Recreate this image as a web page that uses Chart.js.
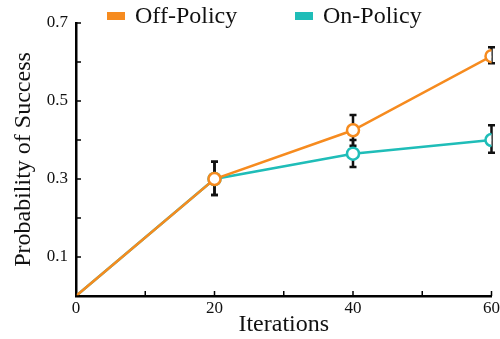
<!DOCTYPE html>
<html>
<head>
<meta charset="utf-8">
<script src="https://cdn.jsdelivr.net/npm/chart.js@4.4.0/dist/chart.umd.min.js"></script>
<style>
  html, body { margin: 0; padding: 0; background: #fff; }
  #wrap { width: 500px; height: 339px; position: relative; }
</style>
</head>
<body>
<div id="wrap"><canvas id="chart"></canvas></div>
<script>
// Données du graphique
const iterations = [0, 20, 40, 60];
const offPolicy = [0, 0.30, 0.425, 0.615];
const offPolicyLow = [null, 0.259, 0.385, 0.597];
const offPolicyHigh = [null, 0.344, 0.464, 0.638];
const onPolicy = [0, 0.30, 0.365, 0.40];
const onPolicyLow = [null, 0.259, 0.331, 0.367];
const onPolicyHigh = [null, 0.344, 0.40, 0.438];
const yLabelled = [0.1, 0.3, 0.5, 0.7];
const xLabelled = [0, 20, 40, 60];

const orange = '#F68B1F';
const teal = '#1FBDB8';
const serif = "'Liberation Serif', 'DejaVu Serif', serif";

// Barres d'erreur (dessinées sous les marqueurs)
const errorBars = {
  id: 'errorBars',
  beforeDatasetsDraw(chart) {
    const ctx = chart.ctx;
    const xs = chart.scales.x, ys = chart.scales.y;
    const sets = [[offPolicyLow, offPolicyHigh], [onPolicyLow, onPolicyHigh]];
    ctx.save();
    ctx.strokeStyle = '#111';
    ctx.lineWidth = 2.5;
    sets.forEach(([lo, hi]) => {
      iterations.forEach((it, i) => {
        if (lo[i] == null) return;
        const px = xs.getPixelForValue(it);
        const y1 = ys.getPixelForValue(lo[i]);
        const y2 = ys.getPixelForValue(hi[i]);
        ctx.beginPath();
        ctx.moveTo(px, y1); ctx.lineTo(px, y2);
        ctx.moveTo(px - 3.5, y1); ctx.lineTo(px + 3.5, y1);
        ctx.moveTo(px - 3.5, y2); ctx.lineTo(px + 3.5, y2);
        ctx.stroke();
      });
    });
    ctx.restore();
  }
};

// Graduations vers l'intérieur + légende
const innerTicks = {
  id: 'innerTicks',
  afterDraw(chart) {
    const ctx = chart.ctx;
    const area = chart.chartArea;
    const xs = chart.scales.x, ys = chart.scales.y;
    ctx.save();
    ctx.strokeStyle = '#000';
    ctx.lineWidth = 1.5;
    ys.ticks.forEach(t => {
      const py = ys.getPixelForValue(t.value);
      ctx.beginPath(); ctx.moveTo(area.left, py); ctx.lineTo(area.left + 5, py); ctx.stroke();
    });
    xs.ticks.forEach(t => {
      const px = xs.getPixelForValue(t.value);
      ctx.beginPath(); ctx.moveTo(px, area.bottom); ctx.lineTo(px, area.bottom - 5); ctx.stroke();
    });

    // Légende
    const items = [['Off-Policy', orange, 107], ['On-Policy', teal, 295]];
    ctx.font = '24px ' + serif;
    ctx.textBaseline = 'middle';
    items.forEach(([label, color, x]) => {
      ctx.fillStyle = color;
      ctx.fillRect(x, 12, 18, 8);
      ctx.fillStyle = '#111';
      ctx.fillText(label, x + 28, 17);
    });
    ctx.restore();
  }
};

new Chart(document.getElementById('chart'), {
  type: 'line',
  data: {
    datasets: [
      {
        label: 'Off-Policy',
        data: iterations.map((x, i) => ({ x, y: offPolicy[i] })),
        borderColor: orange,
        backgroundColor: '#fff',
        borderWidth: 2.5,
        pointRadius: ctx => ctx.dataIndex === 0 ? 0 : 6,
        pointBorderWidth: 2.5,
        pointBackgroundColor: '#fff',
        pointBorderColor: orange
      },
      {
        label: 'On-Policy',
        data: iterations.map((x, i) => ({ x, y: onPolicy[i] })),
        borderColor: teal,
        backgroundColor: '#fff',
        borderWidth: 2.5,
        pointRadius: ctx => ctx.dataIndex === 0 ? 0 : 6,
        pointBorderWidth: 2.5,
        pointBackgroundColor: '#fff',
        pointBorderColor: teal
      }
    ]
  },
  options: {
    responsive: true,
    maintainAspectRatio: false,
    animation: false,
    layout: { padding: { top: 23, right: 0, left: 0, bottom: 0 } },
    plugins: {
      legend: { display: false },
      tooltip: { enabled: false }
    },
    scales: {
      x: {
        type: 'linear',
        min: 0, max: 60,
        grid: { display: false, drawTicks: false },
        border: { display: true, color: '#000', width: 2.5 },
        ticks: {
          stepSize: 10,
          padding: 2,
          color: '#111',
          font: { family: serif, size: 17 },
          maxRotation: 0,
          autoSkip: false,
          callback: v => xLabelled.includes(v) ? String(v) : ''
        },
        title: {
          display: true,
          text: 'Iterations',
          color: '#111',
          font: { family: serif, size: 24 },
          padding: { top: 0, bottom: 0 }
        },
        afterFit: s => { s.height = 43; s.paddingRight = 8; }
      },
      y: {
        min: 0, max: 0.7,
        grid: { display: false, drawTicks: false },
        border: { display: true, color: '#000', width: 2.5 },
        ticks: {
          stepSize: 0.1,
          padding: 8,
          color: '#111',
          font: { family: serif, size: 17 },
          autoSkip: false,
          callback: v => {
            const r = Math.round(v * 10) / 10;
            return yLabelled.includes(r) ? r.toFixed(1) : '';
          }
        },
        title: {
          display: true,
          text: 'Probability of Success',
          color: '#111',
          font: { family: serif, size: 24 },
          padding: { top: 9, bottom: 0 }
        },
        afterFit: s => { s.width = 76; }
      }
    }
  },
  plugins: [errorBars, innerTicks]
});
</script>
</body>
</html>
